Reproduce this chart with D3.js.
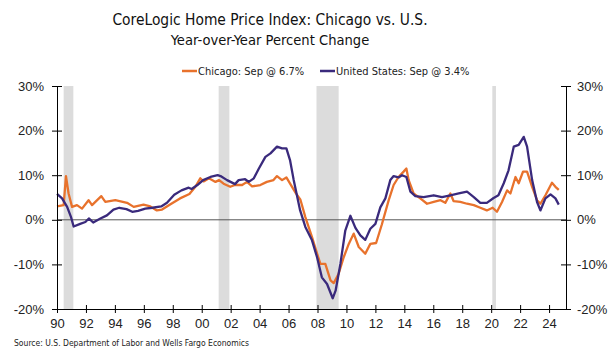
<!DOCTYPE html>
<html>
<head>
<meta charset="utf-8">
<script src="https://cdn.jsdelivr.net/npm/d3@7"></script>
<style>
  body { margin: 0; background: #fff; }
  svg { display: block; font-family: "DejaVu Sans Condensed", "DejaVu Sans", sans-serif; }
</style>
</head>
<body>
<div id="chart"></div>
<script>
/* CoreLogic HPI: Chicago vs. U.S., y/y % change */

// [decimal year, % change]
const chicago = [
  [1990.0, 3.0], [1990.46, 3.3], [1990.62, 9.8], [1990.8, 5.9], [1991.04, 2.9], [1991.38, 3.3],
  [1991.73, 2.5], [1992.18, 4.4], [1992.42, 3.3], [1993.06, 5.3], [1993.34, 4.0], [1994.03, 4.4],
  [1994.84, 3.8], [1995.3, 2.9], [1995.98, 3.4], [1996.45, 3.0], [1996.9, 2.1], [1997.26, 2.3],
  [1997.84, 3.5], [1998.5, 4.8], [1999.15, 5.8], [1999.56, 7.4], [1999.9, 9.3], [2000.13, 8.6],
  [2000.5, 9.3], [2000.95, 8.5], [2001.2, 8.9], [2001.51, 8.1], [2001.97, 7.4], [2002.3, 7.8],
  [2002.79, 7.8], [2003.13, 8.5], [2003.48, 7.5], [2004.05, 7.8], [2004.5, 8.5], [2004.96, 8.9],
  [2005.2, 9.8], [2005.55, 8.9], [2005.85, 9.5], [2006.24, 7.4], [2006.5, 6.0], [2006.82, 4.5],
  [2007.16, 0.6], [2007.62, -3.9], [2007.97, -7.6], [2008.2, -9.9], [2008.54, -9.9], [2008.9, -13.6],
  [2009.12, -14.2], [2009.46, -12.1], [2009.81, -8.4], [2010.16, -5.4], [2010.5, -3.1], [2010.85, -6.1],
  [2011.3, -7.6], [2011.65, -5.4], [2012.05, -5.2], [2012.45, -1.0], [2012.92, 4.4], [2013.26, 7.8],
  [2013.6, 9.6], [2013.95, 10.8], [2014.14, 11.5], [2014.3, 8.9], [2014.64, 5.9], [2015.1, 4.8],
  [2015.57, 3.6], [2016.03, 4.0], [2016.5, 4.4], [2016.83, 3.8], [2017.18, 5.9], [2017.4, 4.2],
  [2017.87, 4.0], [2018.33, 3.6], [2018.8, 3.3], [2019.25, 2.7], [2019.7, 2.1], [2020.1, 2.7],
  [2020.4, 1.8], [2020.75, 4.0], [2021.1, 6.6], [2021.33, 5.9], [2021.68, 9.6], [2021.9, 8.2],
  [2022.2, 10.8], [2022.48, 10.8], [2022.83, 7.4], [2023.17, 4.4], [2023.4, 3.6], [2023.75, 5.5],
  [2024.2, 8.3], [2024.44, 7.4], [2024.67, 6.7]
];

const unitedStates = [
  [1990.0, 5.8], [1990.35, 4.8], [1990.7, 2.9], [1990.97, 0.6], [1991.15, -1.5], [1991.6, -0.9],
  [1991.96, -0.5], [1992.2, 0.3], [1992.5, -0.6], [1993.0, 0.3], [1993.45, 1.0], [1993.9, 2.3],
  [1994.3, 2.7], [1994.8, 2.4], [1995.2, 1.8], [1995.6, 2.0], [1996.1, 2.5], [1996.6, 2.7],
  [1997.2, 3.0], [1997.6, 3.8], [1998.1, 5.6], [1998.6, 6.6], [1999.1, 7.2], [1999.3, 6.9],
  [1999.7, 7.8], [2000.1, 8.9], [2000.6, 9.6], [2001.1, 10.0], [2001.3, 9.8], [2001.75, 8.9],
  [2002.3, 8.0], [2002.55, 8.9], [2003.0, 9.1], [2003.25, 8.5], [2003.6, 9.3], [2003.95, 11.5],
  [2004.4, 14.1], [2004.75, 14.9], [2005.2, 16.4], [2005.55, 16.0], [2005.85, 16.0], [2006.1, 13.4],
  [2006.35, 9.0], [2006.8, 2.1], [2007.16, -1.6], [2007.62, -4.6], [2007.97, -8.4], [2008.3, -12.9],
  [2008.66, -14.4], [2009.05, -17.6], [2009.25, -15.9], [2009.58, -9.9], [2009.92, -2.4], [2010.27, 0.9],
  [2010.62, -1.8], [2010.96, -3.5], [2011.3, -4.5], [2011.65, -2.0], [2012.0, -0.9], [2012.34, 2.8],
  [2012.69, 4.8], [2013.03, 8.9], [2013.26, 9.8], [2013.6, 9.5], [2013.84, 10.0], [2014.14, 9.6],
  [2014.42, 6.3], [2014.76, 5.3], [2015.33, 5.1], [2016.03, 5.5], [2016.6, 5.1], [2017.18, 5.5],
  [2017.76, 5.9], [2018.33, 6.3], [2018.8, 5.1], [2019.25, 3.8], [2019.7, 3.8], [2020.17, 4.9],
  [2020.5, 5.5], [2020.87, 8.2], [2021.2, 11.1], [2021.56, 16.4], [2021.9, 16.8], [2022.25, 18.6],
  [2022.48, 16.4], [2022.83, 8.9], [2023.17, 4.0], [2023.4, 2.1], [2023.75, 4.8], [2024.1, 5.7],
  [2024.44, 4.8], [2024.67, 3.4]
];

// recessions [start, end]
const recessions = [[1990.46, 1991.13], [2001.17, 2001.91], [2007.93, 2009.46], [2020.08, 2020.33]];

const xTicks = [1990, 1992, 1994, 1996, 1998, 2000, 2002, 2004, 2006, 2008, 2010, 2012, 2014, 2016, 2018, 2020, 2022, 2024];
const yTicks = [-20, -10, 0, 10, 20, 30];

const seriesNames = ["Chicago: Sep @ 6.7%", "United States: Sep @ 3.4%"];
const colors = ["#e8722c", "#3a2a7c"];

const width = 614, height = 351;
const margin = ({ top: 86, right: 48, bottom: 42, left: 57 });

let svg = d3.select("#chart")
            .append("svg")
            .attr("width", width)
            .attr("height", height);

const x = d3.scaleLinear()
            .domain([1990, 2025.17])
            .range([margin.left, width - margin.right]);

const y = d3.scaleLinear()
            .domain([-20, 30])
            .range([height - margin.bottom, margin.top]);

// recession shading
svg.append("g")
    .selectAll("rect")
    .data(recessions)
    .join("rect")
    .attr("x", d => x(d[0]))
    .attr("width", d => x(d[1]) - x(d[0]))
    .attr("y", y(30))
    .attr("height", y(-20) - y(30))
    .attr("fill", "#dcdcdc");

// zero line
svg.append("line")
    .attr("x1", x(1990)).attr("x2", x(2025.17))
    .attr("y1", y(0)).attr("y2", y(0))
    .attr("stroke", "#555")
    .attr("stroke-width", 1);

const line = d3.line()
    .x(d => x(d[0]))
    .y(d => y(d[1]));

[chicago, unitedStates].forEach((s, i) => {
    svg.append("path")
        .datum(s)
        .attr("fill", "none")
        .attr("stroke", colors[i])
        .attr("stroke-width", 2.3)
        .attr("stroke-linejoin", "round")
        .attr("d", line);
});

// axes
const fmt = d => d + "%";

const xAxis = g => g
    .attr("transform", `translate(0,${y(-20)})`)
    .call(d3.axisBottom(x).tickValues(xTicks).tickFormat(d => String(d).slice(2)).tickSize(4).tickSizeOuter(0))
    .call(g => g.selectAll(".tick line").attr("y1", -4))
    .call(g => g.selectAll("text").attr("y", 19).attr("dy", 0));

const yLeft = g => g
    .attr("transform", `translate(${margin.left},0)`)
    .call(d3.axisLeft(y).tickValues(yTicks).tickFormat(fmt).tickSize(5).tickSizeOuter(0))
    .call(g => g.selectAll(".tick line").attr("x1", 5))
    .call(g => g.selectAll("text").attr("x", -13));

const yRight = g => g
    .attr("transform", `translate(${width - margin.right},0)`)
    .call(d3.axisRight(y).tickValues(yTicks).tickFormat(fmt).tickSize(5).tickSizeOuter(0))
    .call(g => g.selectAll(".tick line").attr("x1", -5))
    .call(g => g.selectAll("text").attr("x", 11));

[xAxis, yLeft, yRight].forEach(a => {
    svg.append("g")
        .call(a)
        .call(g => g.selectAll("text").attr("fill", "#222").style("font-size", "13px").style("font-family", null))
        .call(g => g.selectAll("line, path").attr("stroke", "#000"));
});

// titles
svg.append("text")
    .attr("x", 270).attr("y", 25)
    .attr("text-anchor", "middle")
    .style("font-size", "15.4px")
    .attr("fill", "#111")
    .text("CoreLogic Home Price Index: Chicago vs. U.S.");

svg.append("text")
    .attr("x", 270).attr("y", 45)
    .attr("text-anchor", "middle")
    .style("font-size", "14.6px")
    .attr("fill", "#111")
    .text("Year-over-Year Percent Change");

// legend
const legendX = [182, 320];
seriesNames.forEach((n, i) => {
    svg.append("line")
        .attr("x1", legendX[i]).attr("x2", legendX[i] + 15)
        .attr("y1", 71).attr("y2", 71)
        .attr("stroke", colors[i])
        .attr("stroke-width", 2.5);
    svg.append("text")
        .attr("x", legendX[i] + 16).attr("y", 75)
        .style("font-size", "11px")
        .attr("fill", "#222")
        .text(n);
});

svg.append("text")
    .attr("x", 14).attr("y", 346)
    .style("font-size", "8.5px")
    .attr("fill", "#222")
    .text("Source: U.S. Department of Labor and Wells Fargo Economics");
</script>
</body>
</html>
